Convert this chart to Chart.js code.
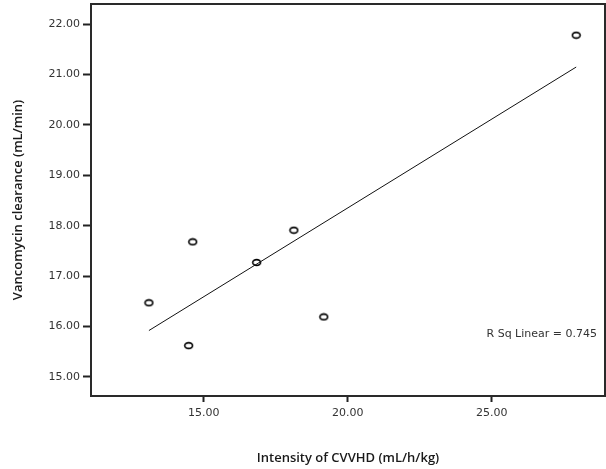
<!DOCTYPE html>
<html>
<head>
<meta charset="utf-8">
<script src="https://cdn.jsdelivr.net/npm/chart.js@4"></script>
<style>
  html, body { margin: 0; padding: 0; background: #fff; }
  #wrap { width: 606px; height: 469px; position: relative; }
</style>
</head>
<body>
<div id="wrap"><canvas id="c" width="606" height="469"></canvas></div>
<script>
// Data
const intensity = [13.10, 14.62, 14.48, 16.84, 18.13, 19.17, 27.93];   // mL/h/kg
const clearance = [16.47, 17.68, 15.62, 17.27, 17.91, 16.19, 21.78];   // mL/min
const xTickValues = [15, 20, 25];
const yTickValues = [15, 16, 17, 18, 19, 20, 21, 22];
const rSqLabel = ['R Sq Linear = 0.745'];
const xTitle = 'Intensity of CVVHD (mL/h/kg)';
const yTitle = 'Vancomycin clearance (mL/min)';

// least squares fit
const n = intensity.length;
const mx = intensity.reduce((a, b) => a + b, 0) / n;
const my = clearance.reduce((a, b) => a + b, 0) / n;
let sxy = 0, sxx = 0;
for (let i = 0; i < n; i++) { sxy += (intensity[i] - mx) * (clearance[i] - my); sxx += (intensity[i] - mx) ** 2; }
const slope = sxy / sxx, icpt = my - slope * mx;
const xMin = Math.min(...intensity), xMax = Math.max(...intensity);
const fitLine = [{x: xMin, y: icpt + slope * xMin}, {x: xMax, y: icpt + slope * xMax}];

// open ellipse marker
const mk = document.createElement('canvas');
mk.width = 11; mk.height = 9;
const mctx = mk.getContext('2d');
mctx.fillStyle = '#fff';
mctx.strokeStyle = '#000';
mctx.lineWidth = 1.6;
mctx.beginPath();
mctx.ellipse(5.5, 4.5, 3.9, 2.9, 0, 0, Math.PI * 2);
mctx.fill(); mctx.stroke();

const frame = {
  id: 'frame',
  afterDraw(chart) {
    const {ctx, chartArea: a, scales} = chart;
    ctx.save();
    ctx.strokeStyle = '#2a2a2a';
    ctx.lineWidth = 2;
    ctx.strokeRect(a.left, a.top, a.right - a.left, a.bottom - a.top);
    ctx.fillStyle = '#333';
    ctx.font = '11px "DejaVu Sans"';
    ctx.textAlign = 'right';
    ctx.textBaseline = 'middle';
    ctx.fillText(rSqLabel[0], a.right - 8, scales.y.getPixelForValue(15.85));
    ctx.restore();
  }
};

const tickFont = {family: '"DejaVu Sans"', size: 11};
const titleFont = {family: '"Open Sans"', size: 13, weight: '600'};
new Chart(document.getElementById('c'), {
  type: 'scatter',
  data: {
    datasets: [
      {
        type: 'line',
        data: fitLine,
        borderColor: '#111',
        borderWidth: 1,
        pointRadius: 0,
        fill: false
      },
      {
        data: intensity.map((v, i) => ({x: v, y: clearance[i]})),
        pointStyle: mk,
        pointRadius: 4
      }
    ]
  },
  options: {
    responsive: false,
    animation: false,
    devicePixelRatio: 1,
    layout: {autoPadding: false, padding: {top: 4, right: 1, left: 0, bottom: 0}},
    plugins: {legend: {display: false}, tooltip: {enabled: false}},
    scales: {
      x: {
        type: 'linear',
        min: 11.09, max: 28.93,
        afterFit(s) { s.height = 73; s.paddingLeft = 0; s.paddingRight = 0; },
        afterBuildTicks(s) { s.ticks = xTickValues.map(v => ({value: v})); },
        border: {display: false},
        grid: {drawOnChartArea: false, drawTicks: true, tickLength: 6, tickColor: '#222', tickWidth: 2},
        ticks: {color: '#333', font: tickFont, padding: 5, callback: v => Number(v).toFixed(2), maxRotation: 0},
        title: {display: true, text: xTitle, color: '#1a1a1a', font: titleFont, padding: {top: 0, bottom: 3}}
      },
      y: {
        type: 'linear',
        min: 14.62, max: 22.40,
        afterFit(s) { s.width = 91; s.paddingTop = 0; s.paddingBottom = 0; },
        afterBuildTicks(s) { s.ticks = yTickValues.map(v => ({value: v})); },
        border: {display: false},
        grid: {drawOnChartArea: false, drawTicks: true, tickLength: 8, tickColor: '#222', tickWidth: 2},
        ticks: {color: '#333', font: tickFont, padding: 3, callback: v => Number(v).toFixed(2)},
        title: {display: true, text: yTitle, color: '#1a1a1a', font: titleFont, padding: {top: 10, bottom: 0}}
      }
    }
  },
  plugins: [frame]
});
</script>
</body>
</html>
